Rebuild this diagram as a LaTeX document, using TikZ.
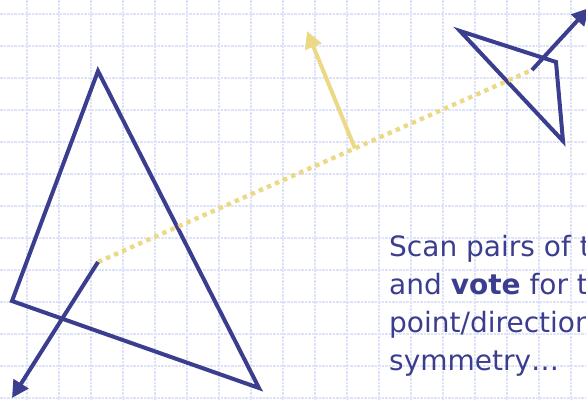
\documentclass[tikz,border=0pt]{standalone}
\usepackage{fontspec}
\setmainfont{DejaVu Sans}
\usetikzlibrary{arrows.meta,calc}
\definecolor{cizgiMavi}{HTML}{3B3E8E}
\definecolor{simetriSari}{HTML}{ECD985}
\definecolor{izgaraMavi}{HTML}{DEE3FA}

\begin{document}
\begin{tikzpicture}[x=1pt,y=-1pt,
  cizgi/.style={cizgiMavi,line width=4pt},
  okCizgi/.style={cizgi,-{Triangle[length=17pt,width=17pt]}},
  sariNokta/.style={simetriSari,line width=4.4pt,dash pattern=on 4.4pt off 4.4pt},
  sariOk/.style={simetriSari,line width=4pt,-{Triangle[length=17pt,width=17pt]}},
  izgara/.style={izgaraMavi,line width=1.3pt,dash pattern=on 2.5pt off 1pt}]
\useasboundingbox (0,0) rectangle (586,400);
% arka plan izgarasi
\foreach \gx in {27,59,...,571} \draw[izgara] (\gx,0)--(\gx,400);
\foreach \gy in {14,46,...,398} \draw[izgara] (0,\gy)--(586,\gy);
% ucgenler
\coordinate (tepe) at (98,71);
\coordinate (solAlt) at (12,301);
\coordinate (sagAlt) at (259,388);
\coordinate (kucukA) at (460,31);
\coordinate (kucukB) at (556,62);
\coordinate (kucukC) at (563,141);
\draw[cizgi] (tepe)--(sagAlt)--(solAlt)--cycle;
\draw[cizgi] (kucukA)--(kucukB)--(kucukC)--cycle;
% merkezler ve yonler
\coordinate (merkezA) at (98,262);
\coordinate (merkezB) at (532,70);
\coordinate (yonA) at (12,398);
\coordinate (yonB) at (589,8);
\coordinate (oyTaban) at ($(merkezA)!0.592!(merkezB)$);
\coordinate (oyUcu) at (307,31);
\draw[sariNokta] (merkezA)--(merkezB);
\draw[sariOk] (oyTaban)--(oyUcu);
\draw[okCizgi] (merkezA)--(yonA);
\draw[okCizgi] (merkezB)--(yonB);
\node[cizgiMavi,anchor=base west,inner sep=0pt,align=left,
  font=\fontsize{28}{37.7}\selectfont] (aciklama) at (389,370)
  {Scan pairs of t\\and \textbf{vote} for t\\point/direction\\symmetry…};
\end{tikzpicture}
\end{document}
